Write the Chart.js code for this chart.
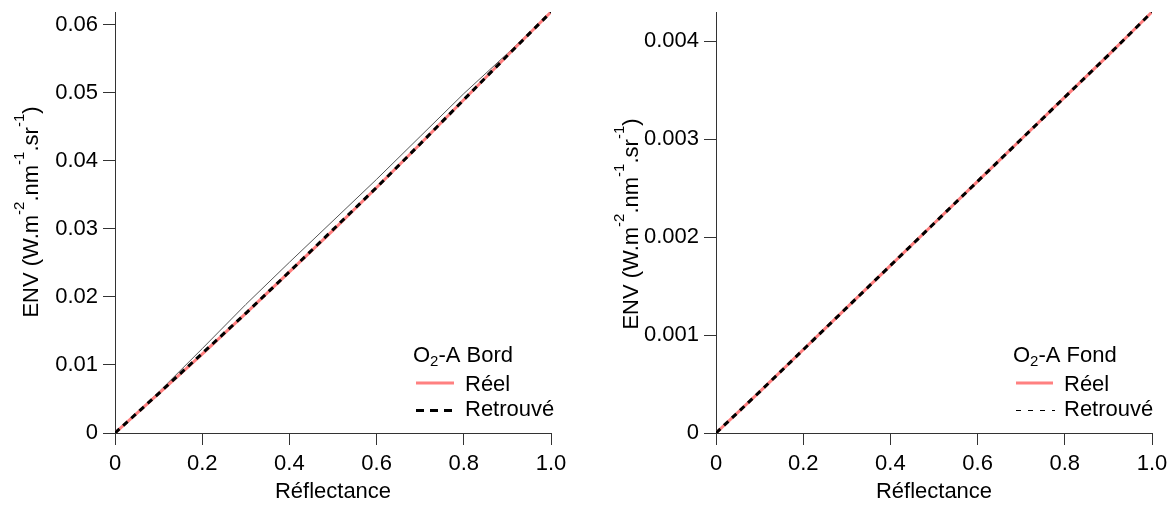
<!DOCTYPE html>
<html>
<head>
<meta charset="utf-8">
<script src="https://cdn.jsdelivr.net/npm/chart.js@4.4.0/dist/chart.umd.min.js"></script>
<style>
html,body{margin:0;padding:0;background:#fff;}
#wrap{position:relative;width:1173px;height:508px;overflow:hidden;}
#c1{position:absolute;left:0;top:0;}
#c2{position:absolute;left:590px;top:0;}
</style>
</head>
<body>
<div id="wrap">
<canvas id="c1" width="590" height="508"></canvas>
<canvas id="c2" width="583" height="508"></canvas>
</div>
<script>
// ---- data ----
const reflectance = [0, 0.1, 0.2, 0.3, 0.4, 0.5, 0.6, 0.7, 0.8, 0.9, 1.0];
const bordReel     = [0, 0.0058, 0.0116, 0.0176, 0.0237, 0.0298, 0.0361, 0.0425, 0.0490, 0.0555, 0.0619];
const bordRetrouve = [0, 0.0058, 0.0117, 0.0176, 0.0237, 0.0299, 0.0361, 0.0425, 0.0490, 0.0555, 0.0619];
const bordAutre    = [0, 0.0060, 0.0124, 0.0189, 0.0251, 0.0312, 0.0373, 0.0436, 0.0499, 0.0558, 0.0619];
const fondReel     = [0, 0.00042, 0.00085, 0.00128, 0.00171, 0.00214, 0.00257, 0.00300, 0.00343, 0.00386, 0.00430];
const fondRetrouve = [0, 0.00042, 0.00085, 0.00128, 0.00171, 0.00214, 0.00257, 0.00300, 0.00343, 0.00386, 0.00430];
const fondAutre    = [0, 0.00043, 0.00086, 0.00129, 0.00172, 0.00215, 0.00258, 0.00301, 0.00344, 0.00387, 0.00430];
const xTickLabels = ['0', '0.2', '0.4', '0.6', '0.8', '1.0'];
const bordYTickLabels = ['0', '0.01', '0.02', '0.03', '0.04', '0.05', '0.06'];
const fondYTickLabels = ['0', '0.001', '0.002', '0.003', '0.004'];
const legendTitles = ['Bord', 'Fond'];
const seriesNames = ['Réel', 'Retrouvé'];

const FONT = 'Liberation Sans, Arial, sans-serif';
const FS = 22;
const RED = 'rgb(255,128,128)';
const AXIS = '#333';

function pts(ys){ return reflectance.map((x,i)=>({x:x, y:ys[i]})); }

function yTitlePlugin(cx, cy){
  return {
    id:'ytitle',
    afterDraw(chart){
      const ctx = chart.ctx;
      ctx.save();
      ctx.translate(cx, cy);
      ctx.rotate(-Math.PI/2);
      ctx.fillStyle = '#000';
      ctx.textBaseline = 'middle';
      const parts = [['ENV (W.m',0],['-2',1],['.nm',0],['-1',1],['.sr',0],['-1',1],[')',0]];
      let total = 0;
      parts.forEach(p=>{ ctx.font = (p[1]? 15: FS) + 'px ' + FONT; total += ctx.measureText(p[0]).width; });
      let x = -total/2;
      parts.forEach(p=>{
        ctx.font = (p[1]? 15: FS) + 'px ' + FONT;
        ctx.textAlign = 'left';
        ctx.fillText(p[0], x, p[1] ? -12 : 0);
        x += ctx.measureText(p[0]).width;
      });
      ctx.restore();
    }
  };
}

function legendPlugin(lx, sx0, sx1, tx, thinDash, name){
  return {
    id:'leg',
    afterDraw(chart){
      const ctx = chart.ctx;
      ctx.save();
      ctx.fillStyle = '#000';
      ctx.textBaseline = 'middle';
      ctx.textAlign = 'left';
      ctx.font = FS + 'px ' + FONT;
      ctx.fillText('O', lx, 356);
      let w = ctx.measureText('O').width;
      ctx.font = '15px ' + FONT;
      ctx.fillText('2', lx + w, 362);
      w += ctx.measureText('2').width;
      ctx.font = FS + 'px ' + FONT;
      ctx.fillText('-A ' + name, lx + w, 356);
      // Réel
      ctx.strokeStyle = RED; ctx.lineWidth = 3; ctx.setLineDash([]);
      ctx.beginPath(); ctx.moveTo(sx0, 383); ctx.lineTo(sx1, 383); ctx.stroke();
      ctx.fillText(seriesNames[0], tx, 385);
      // Retrouvé
      ctx.strokeStyle = '#000';
      if (thinDash){ ctx.lineWidth = 1; ctx.setLineDash([5,7]); }
      else { ctx.lineWidth = 3; ctx.setLineDash([8,6]); }
      ctx.beginPath(); ctx.moveTo(sx0, 410.5); ctx.lineTo(sx1+2, 410.5); ctx.stroke();
      ctx.setLineDash([]);
      ctx.fillText(seriesNames[1], tx, 410);
      ctx.restore();
    }
  };
}

function makeChart(id, reel, retr, autre, ymax, ystep, yLabels, yAxisWidth, padRight, plugins){
  return new Chart(document.getElementById(id), {
    type:'line',
    data:{
      datasets:[
        {label:seriesNames[1], data:pts(retr), borderColor:'#000', borderWidth:3, borderDash:[6,5], pointRadius:0, tension:0, order:0},
        {label:seriesNames[0], data:pts(reel), borderColor:RED, borderWidth:3, pointRadius:0, tension:0, order:1},
        {label:'', data:pts(autre), borderColor:'#555', borderWidth:1, pointRadius:0, tension:0, order:2}
      ]
    },
    options:{
      responsive:false, animation:false, devicePixelRatio:1,
      layout:{padding:{left:0, right:padRight, top:12, bottom:0}},
      plugins:{legend:{display:false}, tooltip:{enabled:false}},
      scales:{
        x:{
          type:'linear', min:0, max:1,
          border:{display:true, color:AXIS, width:1},
          grid:{drawOnChartArea:false, drawTicks:true, tickLength:12, color:AXIS},
          ticks:{stepSize:0.2, padding:6, color:'#000', font:{family:FONT, size:FS}, maxRotation:0,
                 callback:(v,i)=>xTickLabels[i]},
          title:{display:true, text:'Réflectance', color:'#000', font:{family:FONT, size:FS}, padding:{top:0,bottom:3}},
          afterFit(s){ s.height = 75; s.paddingLeft = 0; s.paddingRight = 0; }
        },
        y:{
          type:'linear', min:0, max:ymax,
          border:{display:true, color:AXIS, width:1},
          grid:{drawOnChartArea:false, drawTicks:true, tickLength:12, color:AXIS},
          ticks:{stepSize:ystep, includeBounds:false, padding:5, color:'#000', font:{family:FONT, size:FS},
                 callback:(v,i)=>yLabels[i]},
          afterFit(s){ s.width = yAxisWidth; s.paddingTop = 0; s.paddingBottom = 0; }
        }
      }
    },
    plugins:plugins
  });
}

makeChart('c1', bordReel, bordRetrouve, bordAutre, 0.0619, 0.01, bordYTickLabels, 115, 39,
  [yTitlePlugin(32, 212), legendPlugin(413, 416, 454, 465, false, legendTitles[0])]);
makeChart('c2', fondReel, fondRetrouve, fondAutre, 0.0043, 0.001, fondYTickLabels, 126, 21,
  [yTitlePlugin(42, 224), legendPlugin(1013-590, 1016-590, 1053-590, 1064-590, true, legendTitles[1])]);
</script>
</body>
</html>
